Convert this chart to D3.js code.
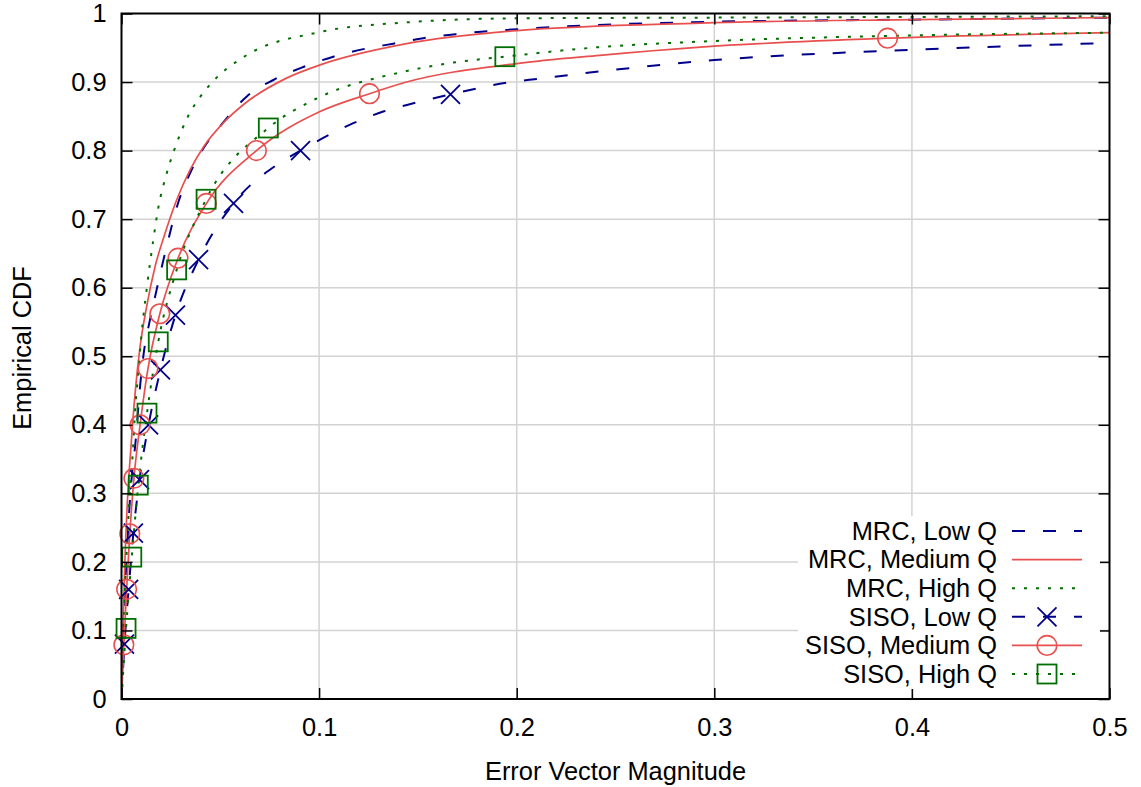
<!DOCTYPE html>
<html>
<head>
<meta charset="utf-8">
<script src="https://cdn.jsdelivr.net/npm/d3@7"></script>
<style>
  html, body { margin: 0; padding: 0; background: #fff; }
  svg { display: block; font-family: "Liberation Sans", Arial, sans-serif; }
</style>
</head>
<body>
<svg id="chart" width="1141" height="787"></svg>
<script>
// ---------------- data ----------------
const xTickValues = [0, 0.1, 0.2, 0.3, 0.4, 0.5];
const xTickLabels = ["0", "0.1", "0.2", "0.3", "0.4", "0.5"];
const yTickValues = [0, 0.1, 0.2, 0.3, 0.4, 0.5, 0.6, 0.7, 0.8, 0.9, 1];
const yTickLabels = ["0", "0.1", "0.2", "0.3", "0.4", "0.5", "0.6", "0.7", "0.8", "0.9", "1"];
const xTitle = "Error Vector Magnitude";
const yTitle = "Empirical CDF";

const seriesNames = ["MRC, Low Q", "MRC, Medium Q", "MRC, High Q", "SISO, Low Q", "SISO, Medium Q", "SISO, High Q"];

// curve points [EVM, CDF]
const mrcLow = [[0,0],[0.001,0.1],[0.0025,0.2],[0.0045,0.3],[0.0072,0.378],[0.0094,0.456],[0.011,0.499],[0.0144,0.553],[0.017,0.587],[0.022,0.65],[0.0288,0.725],[0.0355,0.772],[0.0532,0.847],[0.0634,0.879],[0.0768,0.903],[0.092,0.922],[0.1072,0.937],[0.1224,0.948],[0.1375,0.956],[0.1527,0.964],[0.1696,0.97],[0.2,0.977],[0.3,0.988],[0.4,0.991],[0.5,0.994]];
const mrcMedium = [[0,0],[0.0007,0.1],[0.0017,0.2],[0.0032,0.3],[0.0048,0.368],[0.0055,0.397],[0.0072,0.456],[0.0094,0.514],[0.0127,0.572],[0.017,0.631],[0.022,0.679],[0.0279,0.728],[0.0347,0.772],[0.0414,0.805],[0.0524,0.843],[0.0621,0.868],[0.083,0.905],[0.1005,0.925],[0.1443,0.956],[0.2,0.975],[0.293,0.986],[0.4,0.991],[0.5,0.994]];
const mrcHigh = [[0,0],[0.001,0.1],[0.0024,0.2],[0.0042,0.3],[0.006,0.373],[0.0068,0.417],[0.0085,0.475],[0.0102,0.534],[0.0127,0.597],[0.0161,0.67],[0.0186,0.716],[0.0229,0.767],[0.0267,0.801],[0.0335,0.849],[0.0397,0.878],[0.0473,0.904],[0.0621,0.937],[0.1005,0.973],[0.144,0.987],[0.2,0.993],[0.3,0.994],[0.5,0.996]];
const sisoLow = [[0,0],[0.0015,0.08],[0.0036,0.16],[0.006,0.242],[0.0091,0.32],[0.0137,0.40],[0.0197,0.48],[0.0273,0.56],[0.039,0.641],[0.0567,0.723],[0.0785,0.779],[0.0906,0.80],[0.1173,0.84],[0.1325,0.857],[0.1477,0.869],[0.1665,0.882],[0.195,0.899],[0.2118,0.905],[0.2497,0.918],[0.3,0.932],[0.4,0.947],[0.5,0.957]];
const sisoMedium = [[0,0],[0.0012,0.079],[0.0026,0.16],[0.0042,0.241],[0.0063,0.322],[0.0094,0.40],[0.0134,0.482],[0.0194,0.562],[0.0286,0.643],[0.043,0.723],[0.0683,0.80],[0.1005,0.857],[0.1255,0.883],[0.1443,0.90],[0.2,0.927],[0.242,0.939],[0.293,0.951],[0.3877,0.964],[0.5,0.972]];
const sisoHigh = [[0,0],[0.0023,0.103],[0.0052,0.207],[0.0085,0.312],[0.0129,0.417],[0.0186,0.521],[0.0279,0.626],[0.0428,0.729],[0.0743,0.833],[0.0988,0.876],[0.141,0.914],[0.1646,0.927],[0.194,0.937],[0.242,0.951],[0.293,0.959],[0.4,0.968],[0.5,0.972]];

// marker points
const sisoLowMarks = [[0.0015,0.08],[0.0036,0.16],[0.006,0.242],[0.0091,0.32],[0.0137,0.40],[0.0197,0.48],[0.0273,0.56],[0.039,0.641],[0.0567,0.723],[0.0906,0.80],[0.1665,0.882]];
const sisoMediumMarks = [[0.0012,0.079],[0.0026,0.16],[0.0042,0.241],[0.0063,0.322],[0.0094,0.40],[0.0134,0.482],[0.0194,0.562],[0.0286,0.643],[0.043,0.723],[0.0683,0.80],[0.1255,0.883],[0.3877,0.964]];
const sisoHighMarks = [[0.0023,0.103],[0.0052,0.207],[0.0085,0.312],[0.0129,0.417],[0.0186,0.521],[0.0279,0.626],[0.0428,0.729],[0.0743,0.833],[0.194,0.937]];

// ---------------- layout ----------------
const L = 121.5, R = 1109.5, T = 13.5, B = 699;
const svg = d3.select("#chart");
const x = d3.scaleLinear().domain([0, 0.5]).range([L, R]);
const y = d3.scaleLinear().domain([0, 1]).range([B, T]);

const BLUE = "#00008b", RED = "#e8504f", GREEN = "#006e00";
const styles = [
  {color: BLUE, dash: "13,18", width: 2, marker: null},
  {color: RED, dash: null, width: 1.7, marker: null},
  {color: GREEN, dash: "3,9", width: 2, marker: null},
  {color: BLUE, dash: "13,18", width: 2, marker: "x"},
  {color: RED, dash: null, width: 1.7, marker: "o"},
  {color: GREEN, dash: "3,9", width: 2, marker: "s"}
];
const curves = [mrcLow, mrcMedium, mrcHigh, sisoLow, sisoMedium, sisoHigh];
const marks = [null, null, null, sisoLowMarks, sisoMediumMarks, sisoHighMarks];

svg.append("defs").append("clipPath").attr("id", "plotclip")
  .append("rect").attr("x", L).attr("y", T).attr("width", R - L).attr("height", B - T);

// grid
const grid = svg.append("g");
grid.selectAll(".gx").data(xTickValues.slice(1, -1)).enter().append("line")
  .attr("x1", d => x(d)).attr("x2", d => x(d)).attr("y1", T).attr("y2", B)
  .attr("stroke", "#d3d3d3").attr("stroke-width", 1.5);
grid.selectAll(".gy").data(yTickValues.slice(1, -1)).enter().append("line")
  .attr("y1", d => y(d)).attr("y2", d => y(d)).attr("x1", L).attr("x2", R)
  .attr("stroke", "#d3d3d3").attr("stroke-width", 1.5);

// axes with inward ticks (mirrored)
const fontSize = 25.4;
const xAxisB = d3.axisBottom(x).tickValues(xTickValues).tickFormat((d, i) => xTickLabels[i]).tickSizeInner(-11).tickSizeOuter(0).tickPadding(19);
const xAxisT = d3.axisTop(x).tickValues(xTickValues).tickFormat("").tickSizeInner(-11).tickSizeOuter(0);
const yAxisL = d3.axisLeft(y).tickValues(yTickValues).tickFormat((d, i) => yTickLabels[i]).tickSizeInner(-11).tickSizeOuter(0).tickPadding(15);
const yAxisR = d3.axisRight(y).tickValues(yTickValues).tickFormat("").tickSizeInner(-11).tickSizeOuter(0);

function styleAxis(g) {
  g.select(".domain").remove();
  g.selectAll(".tick line").attr("stroke", "#000").attr("stroke-width", 1.5);
  g.selectAll(".tick text").attr("font-size", fontSize).attr("fill", "#000")
    .attr("font-family", "Liberation Sans, Arial, sans-serif");
}

// curves
const lineGen = d3.line().x(d => x(d[0])).y(d => y(d[1])).curve(d3.curveMonotoneX);
const plot = svg.append("g").attr("clip-path", "url(#plotclip)");
curves.forEach((c, i) => {
  const st = styles[i];
  plot.append("path").datum(c).attr("d", lineGen)
    .attr("fill", "none").attr("stroke", st.color).attr("stroke-width", st.width)
    .attr("stroke-dasharray", st.dash);
});

function drawMarker(g, type, cx, cy, color) {
  if (type === "x") {
    const r = 9.5;
    g.append("path").attr("d", `M${cx - r},${cy - r}L${cx + r},${cy + r}M${cx - r},${cy + r}L${cx + r},${cy - r}`)
      .attr("stroke", color).attr("stroke-width", 1.8).attr("fill", "none");
  } else if (type === "o") {
    g.append("circle").attr("cx", cx).attr("cy", cy).attr("r", 9.8)
      .attr("stroke", color).attr("stroke-width", 1.6).attr("fill", "none");
  } else if (type === "s") {
    const h = 9.5;
    g.append("rect").attr("x", cx - h).attr("y", cy - h).attr("width", 2 * h).attr("height", 2 * h)
      .attr("stroke", color).attr("stroke-width", 1.8).attr("fill", "none");
  }
}
const markG = svg.append("g");
marks.forEach((m, i) => {
  if (!m) return;
  m.forEach(p => drawMarker(markG, styles[i].marker, x(p[0]), y(p[1]), styles[i].color));
});

// axes on top
svg.append("g").attr("transform", `translate(0,${B})`).call(xAxisB).call(styleAxis);
svg.append("g").attr("transform", `translate(0,${T})`).call(xAxisT).call(styleAxis);
svg.append("g").attr("transform", `translate(${L},0)`).call(yAxisL).call(styleAxis);
svg.append("g").attr("transform", `translate(${R},0)`).call(yAxisR).call(styleAxis);

// legend
const legX0 = 798, legY0 = 516, legW = 302, legH = 173;
const leg = svg.append("g");
leg.append("rect").attr("x", legX0).attr("y", legY0).attr("width", legW).attr("height", legH).attr("fill", "#fff");
const rowY = d3.scaleLinear().domain([0, 5]).range([531, 674]);
seriesNames.forEach((name, i) => {
  const st = styles[i];
  const yy = rowY(i);
  leg.append("text").attr("x", 997).attr("y", yy).attr("dy", "0.35em")
    .attr("text-anchor", "end").attr("font-size", fontSize).text(name);
  leg.append("line").attr("x1", 1012).attr("x2", 1082).attr("y1", yy).attr("y2", yy)
    .attr("stroke", st.color).attr("stroke-width", st.width).attr("stroke-dasharray", st.dash);
  if (st.marker) drawMarker(leg, st.marker, 1047, yy, st.color);
});

// frame
svg.append("rect").attr("x", L).attr("y", T).attr("width", R - L).attr("height", B - T)
  .attr("fill", "none").attr("stroke", "#000").attr("stroke-width", 2);

// titles
svg.append("text").attr("x", (L + R) / 2).attr("y", 771).attr("dy", "0.35em")
  .attr("text-anchor", "middle").attr("font-size", fontSize).text(xTitle);
svg.append("text").attr("transform", `translate(22,348) rotate(-90)`).attr("dy", "0.35em")
  .attr("text-anchor", "middle").attr("font-size", fontSize).text(yTitle);
</script>
</body>
</html>
